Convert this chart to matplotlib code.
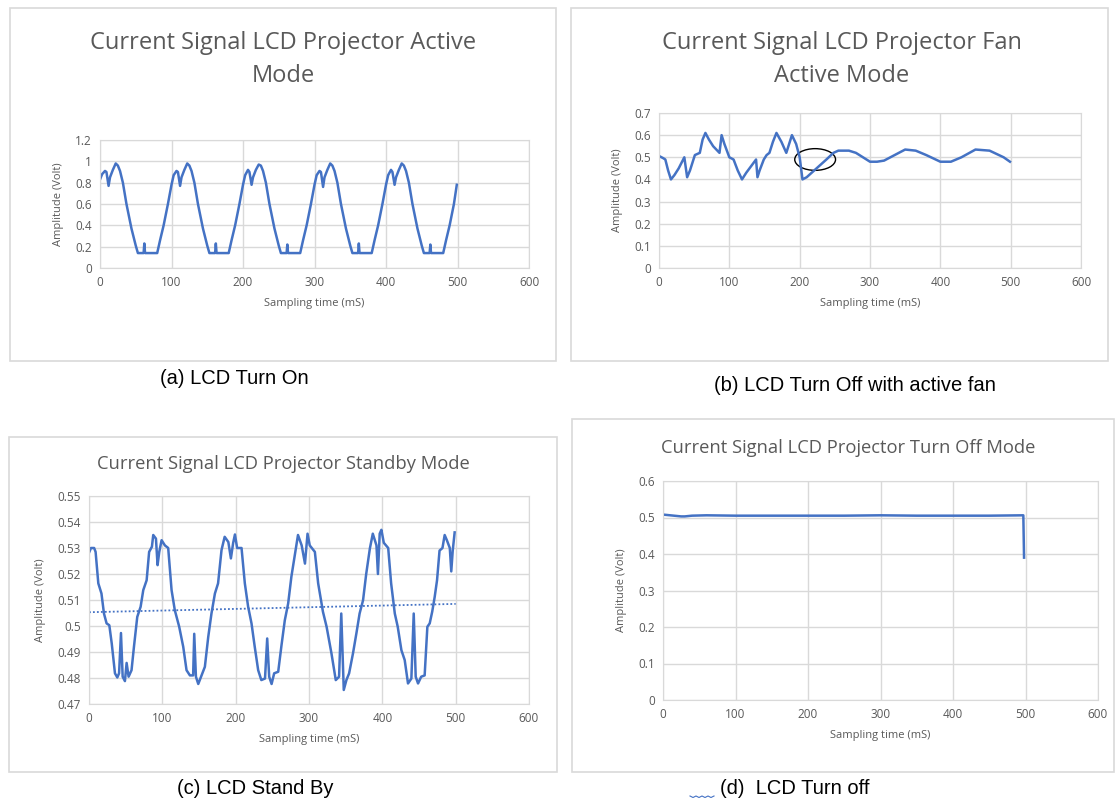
import numpy as np
import matplotlib.pyplot as plt
from matplotlib.patches import Rectangle, Ellipse
from matplotlib.lines import Line2D
from matplotlib.ticker import FuncFormatter

# (a) active mode
a_t = [0, 3, 7, 9, 12, 14, 18, 22, 25, 28, 32, 37, 44, 50, 53, 61, 62, 63, 80, 84, 89, 95,
       100, 103, 107, 109, 112, 114, 118, 122, 125, 128, 132, 137, 144, 150, 153, 161, 162, 163, 180, 184, 189, 195,
       200, 203, 207, 209, 212, 214, 218, 222, 225, 228, 232, 237, 244, 250, 253, 261, 262, 263, 280, 284, 289, 295,
       300, 303, 307, 309, 312, 314, 318, 322, 325, 328, 332, 337, 344, 350, 353, 361, 362, 363, 380, 384, 389, 395,
       400, 403, 407, 409, 412, 414, 418, 422, 425, 428, 432, 437, 444, 450, 453, 461, 462, 463, 480, 484, 489, 495, 499]
a_v = [0.83, 0.88, 0.91, 0.90, 0.77, 0.85, 0.92, 0.98, 0.96, 0.91, 0.80, 0.60, 0.37, 0.21, 0.14, 0.14, 0.23, 0.14, 0.14, 0.26, 0.40, 0.60,
       0.78, 0.87, 0.91, 0.90, 0.77, 0.85, 0.92, 0.98, 0.96, 0.91, 0.80, 0.60, 0.37, 0.21, 0.14, 0.14, 0.23, 0.14, 0.14, 0.26, 0.40, 0.60,
       0.78, 0.87, 0.92, 0.90, 0.78, 0.85, 0.92, 0.97, 0.96, 0.91, 0.80, 0.60, 0.37, 0.21, 0.14, 0.14, 0.22, 0.14, 0.14, 0.26, 0.40, 0.60,
       0.78, 0.87, 0.91, 0.90, 0.76, 0.85, 0.92, 0.98, 0.96, 0.91, 0.80, 0.60, 0.37, 0.21, 0.14, 0.14, 0.23, 0.14, 0.14, 0.26, 0.40, 0.60,
       0.78, 0.87, 0.92, 0.90, 0.78, 0.85, 0.92, 0.98, 0.96, 0.91, 0.80, 0.60, 0.37, 0.21, 0.14, 0.14, 0.22, 0.14, 0.14, 0.26, 0.40, 0.60, 0.78]

# (b) fan active mode
b_t = [0, 6, 9, 13, 17, 22, 28, 36, 40, 44, 48, 51, 58, 62, 66, 71, 77, 86, 89, 93, 100,
       106, 112, 118, 124, 131, 138, 140, 143, 149, 153, 157, 162, 167, 174, 181, 189, 195, 200, 204,
       210, 224, 238, 248, 255, 270, 280, 290, 300, 310, 320, 335, 350, 365, 380, 400, 415, 430, 450, 470, 490, 499]
b_v = [0.506, 0.496, 0.49, 0.44, 0.40, 0.42, 0.45, 0.50, 0.41, 0.44, 0.48, 0.51, 0.52, 0.58, 0.61, 0.58, 0.55, 0.52, 0.60, 0.56, 0.50,
       0.49, 0.44, 0.40, 0.43, 0.46, 0.49, 0.41, 0.44, 0.49, 0.51, 0.52, 0.57, 0.61, 0.57, 0.52, 0.60, 0.56, 0.50, 0.40,
       0.41, 0.45, 0.49, 0.52, 0.53, 0.53, 0.52, 0.50, 0.48, 0.48, 0.485, 0.51, 0.535, 0.53, 0.51, 0.48, 0.48, 0.50, 0.535, 0.53, 0.50, 0.48]

# (c) standby mode
c_t = [0, 2.7, 7, 9, 12.7, 17, 20.4, 24, 27.7, 31, 35.4, 38.6, 41, 43.6, 45.9, 49, 51.3, 54, 58, 61.3, 65.8, 70.4, 74, 78.6,
       82, 85.8, 87.6, 91.3, 93.5, 95.8, 99, 103.5, 108, 112.6, 117, 123, 128.5, 133, 137.6, 142, 143.5, 145.8, 149, 153.5,
       158, 162.6, 167, 171.7, 176, 180.7, 185, 190, 193.5, 196.6, 199, 202, 208, 212.5, 217, 221.6, 226, 230.7, 235, 240,
       243, 245.7, 249, 252.5, 258, 262.5, 267, 271.6, 276, 280.7, 285, 290, 294.5, 298, 301, 308, 312.5, 319, 324, 330.6,
       336.5, 341, 344, 347.4, 351, 354.7, 360, 364.7, 369, 373.7, 378, 383, 387, 392, 394, 396.4, 398.7, 402, 408, 412,
       417, 421, 426, 430.5, 435, 439.6, 442.8, 445.5, 448.7, 453, 457.7, 461.4, 464.6, 468, 471.4, 474.6, 478, 482, 485,
       488, 492, 494, 496, 498.6]
c_v = [0.5282, 0.530, 0.530, 0.5285, 0.5164, 0.5125, 0.5048, 0.501, 0.5003, 0.4933, 0.4818, 0.4802, 0.4818, 0.4973, 0.4805,
       0.4788, 0.4858, 0.4805, 0.483, 0.492, 0.5035, 0.5074, 0.5138, 0.5176, 0.5285, 0.5305, 0.535, 0.5336, 0.5234, 0.5285,
       0.533, 0.531, 0.530, 0.5138, 0.5061, 0.4997, 0.492, 0.483, 0.481, 0.481, 0.497, 0.4805, 0.4777, 0.481, 0.4843, 0.4958,
       0.5048, 0.5125, 0.5164, 0.5292, 0.5343, 0.5323, 0.526, 0.532, 0.5352, 0.530, 0.530, 0.5164, 0.5074, 0.501, 0.492,
       0.483, 0.4792, 0.4798, 0.4952, 0.4805, 0.4777, 0.4818, 0.4824, 0.4926, 0.5022, 0.5087, 0.519, 0.5273, 0.535, 0.531,
       0.524, 0.5355, 0.531, 0.5285, 0.5164, 0.5055, 0.4997, 0.4895, 0.4792, 0.4805, 0.5048, 0.4754, 0.4792, 0.4818, 0.4895,
       0.4973, 0.5048, 0.5099, 0.520, 0.5298, 0.5355, 0.531, 0.520, 0.5355, 0.537, 0.532, 0.530, 0.5164, 0.5048, 0.4997,
       0.4907, 0.4869, 0.4779, 0.4798, 0.5048, 0.4805, 0.4779, 0.4805, 0.481, 0.4997, 0.501, 0.5055, 0.5112, 0.5176, 0.529,
       0.530, 0.535, 0.533, 0.530, 0.521, 0.529, 0.536]
c_trend_t = [0, 500]
c_trend_v = [0.5053, 0.5085]

# (d) turn off mode
d_t = [0, 10, 25, 30, 40, 60, 100, 150, 200, 250, 300, 350, 400, 450, 497, 498]
d_v = [0.508, 0.506, 0.503, 0.503, 0.505, 0.506, 0.505, 0.505, 0.505, 0.505, 0.506, 0.505, 0.505, 0.505, 0.506, 0.39]

W, H = 1115, 800
blue = "#4472C4"
grey_txt = "#595959"
grid_c = "#d9d9d9"

plt.rcParams['font.family'] = ['Open Sans', 'DejaVu Sans']

fig = plt.figure(figsize=(W / 100, H / 100), dpi=100)


def px_rect(l, t, r, b):
    return [l / W, 1 - b / H, (r - l) / W, (b - t) / H]


def frame(l, t, r, b):
    fig.patches.append(Rectangle((l / W, 1 - b / H), (r - l) / W, (b - t) / H,
                                 transform=fig.transFigure, fill=False,
                                 edgecolor=grid_c, lw=1.2))


def ftext(x, y, s, **kw):
    fig.text(x / W, 1 - y / H, s, ha="center", va="center", **kw)


def setup(ax, ymax, ystep):
    ax.set_xlim(0, 600)
    ax.set_ylim(0, ymax)
    ax.set_xticks(range(0, 601, 100))
    ax.set_yticks(np.round(np.arange(0, ymax + ystep / 2, ystep), 3))
    ax.grid(True, color=grid_c, lw=1)
    ax.set_axisbelow(True)
    for s in ax.spines.values():
        s.set_color(grid_c)
    ax.tick_params(length=0, labelsize=8.5, labelcolor=grey_txt, pad=6)
    ax.yaxis.set_major_formatter(FuncFormatter(lambda v, p: f"{round(v, 3):g}"))
    ax.set_xlabel("Sampling time (mS)", fontsize=8, color=grey_txt, labelpad=6)
    ax.set_ylabel("Amplitude (Volt)", fontsize=8, color=grey_txt, labelpad=8)


# frames
frame(10, 8, 556, 361)
frame(571, 8, 1108, 361)
frame(9, 437, 557, 772)
frame(572, 419, 1114, 772)

cap_font = dict(fontsize=14.5, family="Liberation Sans")

# (a)
ax1 = fig.add_axes(px_rect(100, 140, 529, 268))
ax1.plot(a_t, a_v, color=blue, lw=1.8)
setup(ax1, 1.2, 0.2)
ftext(283, 43, "Current Signal LCD Projector Active", fontsize=17, color=grey_txt)
ftext(283, 76, "Mode", fontsize=17, color=grey_txt)
ftext(234, 379, "(a) LCD Turn On", **cap_font)

# (b)
ax2 = fig.add_axes(px_rect(659, 113, 1081, 268))
ax2.plot(b_t, b_v, color=blue, lw=1.8)
ax2.add_patch(Ellipse((222, 0.49), 58, 0.098, fill=False, edgecolor="black", lw=1))
setup(ax2, 0.7, 0.1)
ftext(842, 43, "Current Signal LCD Projector Fan", fontsize=17, color=grey_txt)
ftext(842, 76, "Active Mode", fontsize=17, color=grey_txt)
ftext(855, 386, "(b) LCD Turn Off with active fan", **cap_font)

# (c)
ax3 = fig.add_axes(px_rect(89, 496, 529, 704))
ax3.plot(c_t, c_v, color=blue, lw=1.8)
ax3.plot(c_trend_t, c_trend_v, color=blue, lw=1.3, ls=(0, (1, 1.2)))
setup(ax3, 0.55, 0.01)
ax3.set_ylim(0.47, 0.55)
ax3.set_yticks(np.round(np.arange(0.47, 0.5501, 0.01), 2))
ftext(283, 464, "Current Signal LCD Projector Standby Mode", fontsize=13.2, color=grey_txt)
ftext(255, 788, "(c) LCD Stand By", **cap_font)

# (d)
ax4 = fig.add_axes(px_rect(663, 481, 1098, 700))
ax4.plot(d_t, d_v, color=blue, lw=1.8)
setup(ax4, 0.6, 0.1)
ftext(795, 788, "(d)  LCD Turn off", **cap_font)
ftext(848, 448, "Current Signal LCD Projector Turn Off Mode", fontsize=13.2, color=grey_txt)

# spell-check squiggle under the (d) caption
sx = np.linspace(690, 714, 9)
sy = 796 + np.array([0, 1.5, 0, 1.5, 0, 1.5, 0, 1.5, 0])
fig.lines.append(Line2D(sx / W, 1 - sy / H, transform=fig.transFigure, color=blue, lw=0.8))

fig.savefig("out.png", dpi=100, facecolor="white")
